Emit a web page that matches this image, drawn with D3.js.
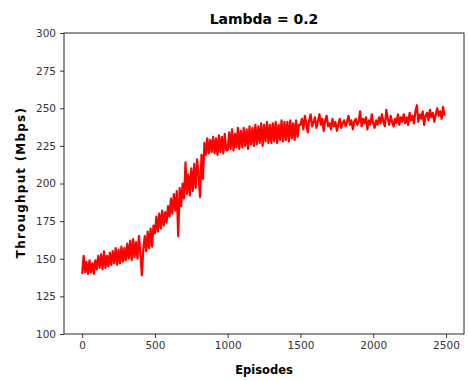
<!DOCTYPE html>
<html>
<head>
<meta charset="utf-8">
<script src="https://cdn.jsdelivr.net/npm/d3@7"></script>
<style>
  html, body { margin: 0; padding: 0; background: #fff; }
  svg { display: block; font-family: "DejaVu Sans", sans-serif; }
</style>
</head>
<body>
<svg id="chart" width="468" height="381"></svg>
<script>
// Throughput recorded every 10 episodes (episode = index * 10)
const episodeStep = 10;
const throughput = [
  140,152,141,148,140,149,141,147,140,149,
  143,152,144,153,143,155,144,152,145,154,
  146,155,147,157,146,156,147,158,148,157,
  149,160,150,162,149,163,151,161,150,165,
  154,139,156,165,155,168,157,170,158,172,
  167,178,168,180,170,182,172,181,174,185,
  178,190,180,193,182,195,165,197,185,200,
  190,214,193,206,192,210,195,213,197,216,
  205,191,219,203,227,219,230,220,229,221,
  231,220,230,219,232,221,231,220,233,222,
  222,234,223,236,222,233,224,237,223,235,
  224,237,225,236,223,238,226,237,225,239,
  226,238,227,240,225,239,228,241,227,239,
  227,240,228,241,227,239,229,242,228,241,
  229,241,228,242,230,240,229,242,231,239,
  239,243,236,245,240,234,242,246,238,241,
  244,237,241,246,239,243,235,242,245,238,
  240,236,243,238,241,235,239,243,237,240,
  242,238,241,245,239,242,236,241,243,239,
  241,248,238,243,240,244,236,242,239,246,
  240,237,242,239,244,240,246,241,238,249,
  243,239,245,241,238,243,240,246,239,244,
  241,246,240,244,239,247,242,245,240,248,
  252,241,246,243,248,239,245,247,242,249,
  244,247,241,246,250,245,248,243,251,245
];
const xTicks = [0, 500, 1000, 1500, 2000, 2500];
const yTicks = [100, 125, 150, 175, 200, 225, 250, 275, 300];

const titleText = "Lambda = 0.2";
const xLabel = "Episodes";
const yLabel = "Throughput (Mbps)";

const margin = { left: 64, right: 4, top: 33, bottom: 47 };
const W = 468, H = 381;
const svg = d3.select("#chart");

const lastEpisode = 2499;
const pad = lastEpisode * 0.05;
const x = d3.scaleLinear()
  .domain([-pad, lastEpisode + pad])
  .range([margin.left, W - margin.right]);
const y = d3.scaleLinear()
  .domain([100, 300])
  .range([H - margin.bottom, margin.top]);

const axisColor = "#262626";

// data line
const line = d3.line()
  .x((d, i) => x(i * episodeStep))
  .y(d => y(d));

svg.append("path")
  .datum(throughput)
  .attr("fill", "none")
  .attr("stroke", "#ff0000")
  .attr("stroke-width", 2.2)
  .attr("stroke-linejoin", "round")
  .attr("d", line);

// axes
const xAxis = svg.append("g")
  .attr("transform", `translate(0,${H - margin.bottom})`)
  .call(d3.axisBottom(x).tickValues(xTicks).tickSize(4).tickPadding(4).tickFormat(d3.format("d")));
const yAxis = svg.append("g")
  .attr("transform", `translate(${margin.left},0)`)
  .call(d3.axisLeft(y).tickValues(yTicks).tickSize(4).tickPadding(4).tickFormat(d3.format("d")));

[xAxis, yAxis].forEach(g => {
  g.select(".domain").remove();
  g.selectAll(".tick line").attr("stroke", axisColor).attr("stroke-width", 0.9);
  g.selectAll(".tick text")
    .attr("fill", "#333")
    .style("font-size", "10.5px")
    .style("font-family", "'DejaVu Sans', sans-serif");
});

// frame
svg.append("rect")
  .attr("x", margin.left)
  .attr("y", margin.top)
  .attr("width", W - margin.left - margin.right)
  .attr("height", H - margin.top - margin.bottom)
  .attr("fill", "none")
  .attr("stroke", axisColor)
  .attr("stroke-width", 1);

// title and labels
svg.append("text")
  .attr("x", (margin.left + W - margin.right) / 2)
  .attr("y", 24)
  .attr("text-anchor", "middle")
  .style("font-weight", "bold")
  .style("font-size", "14px")
  .attr("fill", "#000")
  .text(titleText);

svg.append("text")
  .attr("x", (margin.left + W - margin.right) / 2)
  .attr("y", 374)
  .attr("text-anchor", "middle")
  .style("font-weight", "bold")
  .style("font-size", "11.5px")
  .attr("fill", "#000")
  .text(xLabel);

svg.append("text")
  .attr("transform", `translate(25,${(margin.top + H - margin.bottom) / 2 - 1}) rotate(-90)`)
  .attr("text-anchor", "middle")
  .style("font-weight", "bold")
  .style("font-size", "12px")
  .style("letter-spacing", "1.2px")
  .attr("fill", "#000")
  .text(yLabel);
</script>
</body>
</html>
